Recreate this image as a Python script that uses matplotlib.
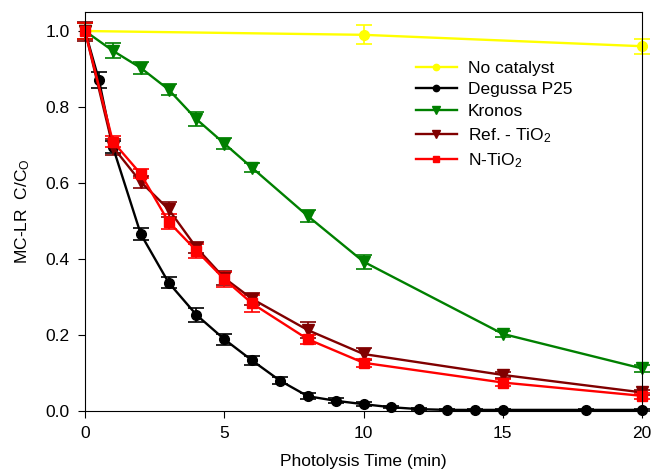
import matplotlib
matplotlib.use('Agg')
import matplotlib.pyplot as plt

plt.rcParams['font.family'] = ['Liberation Sans', 'DejaVu Sans']
plt.rcParams['mathtext.fontset'] = 'custom'
plt.rcParams['mathtext.rm'] = 'Liberation Sans'
plt.rcParams['mathtext.it'] = 'Liberation Sans'

# photolysis data, C/C0 vs time (min)
t_none = [0, 10, 20]
c_none = [1.0, 0.99, 0.96]
e_none = [0.02, 0.025, 0.02]

t_p25 = [0, 0.5, 1, 2, 3, 4, 5, 6, 7, 8, 9, 10, 11, 12, 13, 14, 15, 18, 20]
c_p25 = [1.0, 0.871, 0.695, 0.466, 0.338, 0.253, 0.189, 0.133, 0.080, 0.039,
         0.027, 0.018, 0.010, 0.005, 0.003, 0.003, 0.003, 0.003, 0.003]
e_p25 = [0.02, 0.02, 0.015, 0.015, 0.015, 0.018, 0.015, 0.012, 0.01, 0.008,
         0.006, 0.005, 0.003, 0.002, 0.002, 0.002, 0.002, 0.002, 0.002]

t_tio2 = [0, 1, 2, 3, 4, 5, 6, 8, 10, 15, 20]
c_kronos = [1.0, 0.948, 0.903, 0.846, 0.768, 0.704, 0.640, 0.513, 0.393, 0.203, 0.112]
e_kronos = [0.02, 0.02, 0.015, 0.015, 0.018, 0.015, 0.012, 0.015, 0.018, 0.008, 0.01]
c_ref = [1.0, 0.695, 0.603, 0.531, 0.430, 0.350, 0.295, 0.213, 0.150, 0.095, 0.049]
e_ref = [0.025, 0.02, 0.015, 0.02, 0.015, 0.018, 0.015, 0.02, 0.015, 0.008, 0.006]
c_n = [1.0, 0.709, 0.624, 0.498, 0.422, 0.347, 0.283, 0.189, 0.127, 0.075, 0.040]
e_n = [0.02, 0.015, 0.012, 0.02, 0.018, 0.02, 0.022, 0.012, 0.01, 0.01, 0.008]

fig = plt.figure(figsize=(6.54, 4.73), dpi=100)
ax = fig.add_axes([0.13, 0.131, 0.8517, 0.8436])

series = [
    (t_none, c_none, e_none, '#ffff00', 'o', 7, 'No catalyst'),
    (t_p25, c_p25, e_p25, 'black', 'o', 7, 'Degussa P25'),
    (t_tio2, c_kronos, e_kronos, '#008000', 'v', 8, 'Kronos'),
    (t_tio2, c_ref, e_ref, '#800000', 'v', 8, 'Ref. - TiO$_2$'),
    (t_tio2, c_n, e_n, '#ff0000', 's', 7, 'N-TiO$_2$'),
]
for x, y, err, col, mk, ms, lab in series:
    ax.errorbar(x, y, yerr=err, color=col, marker=mk, markersize=ms, lw=1.7,
                elinewidth=1.2, capsize=6, capthick=1.2, label=lab, clip_on=False)

ax.set_xlim(0, 20)
ax.set_ylim(0, 1.05)
ax.set_xticks([0, 5, 10, 15, 20])
ax.set_yticks([0.0, 0.2, 0.4, 0.6, 0.8, 1.0])
ax.set_yticklabels(['0.0', '0.2', '0.4', '0.6', '0.8', '1.0'])
ax.tick_params(direction='out', length=5, labelsize=12.5, pad=6)
ax.set_xlabel('Photolysis Time (min)', fontsize=12.5, labelpad=9)
ax.set_ylabel('MC-LR  C/C$_O$', fontsize=12.5, labelpad=10)

handles, labels = ax.get_legend_handles_labels()
handles = [h[0] for h in handles]
ax.legend(handles, labels, loc='upper left', bbox_to_anchor=(0.578, 0.9),
          frameon=False, fontsize=12.5, markerscale=0.65, handlelength=2.4,
          labelspacing=0.38, handletextpad=0.6, borderpad=0)

fig.savefig('out.png', dpi=100)
